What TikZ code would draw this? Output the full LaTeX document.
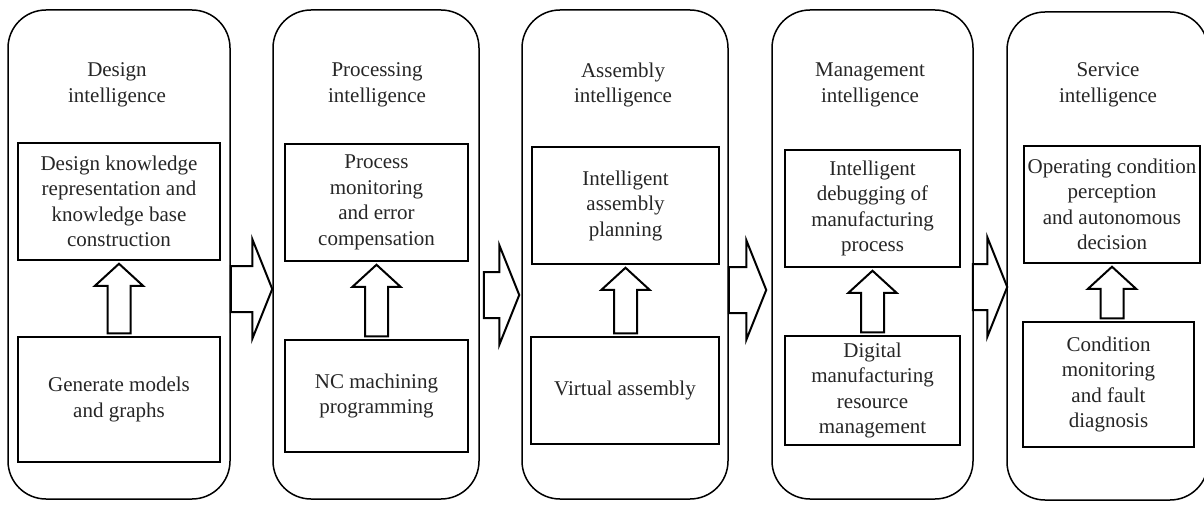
\documentclass[tikz,border=0pt]{standalone}
\usepackage{fontspec}
\setmainfont{Liberation Serif}
\usetikzlibrary{calc}
\tikzset{
  panel/.style={draw=black, line width=1.5pt, rounded corners=38pt, inner sep=0pt},
  box/.style={draw=black, line width=1.5pt, inner sep=0pt, align=center, text=black!85,
    font=\fontsize{21}{25.5}\selectfont},
  title/.style={align=center, text=black!85, inner sep=0pt, font=\fontsize{21}{25.5}\selectfont},
  blockarrow/.style={draw=black, line width=2pt, fill=white, line join=miter}
}
\newcommand{\smallup}[2]{%
  \draw[blockarrow] let \p1=(#2.south), \p2=(#1.north) in
    (\x1,\y1-3pt) -- (\x1+24pt,\y1-25pt) -- (\x1+11.5pt,\y1-25pt) -- (\x1+11.5pt,\y2+3pt)
    -- (\x1-11.5pt,\y2+3pt) -- (\x1-11.5pt,\y1-25pt) -- (\x1-24pt,\y1-25pt) -- cycle;}
\newcommand{\bigright}[5]{%
  \draw[blockarrow] let \p1=(#1.east), \p2=(#2.west) in
    ({\x1+(#4pt)},{#3pt+23pt}) -- ({\x2+(#5pt)-20pt},{#3pt+23pt}) -- ({\x2+(#5pt)-20pt},{#3pt+50pt})
    -- ({\x2+(#5pt)},{#3pt}) -- ({\x2+(#5pt)-20pt},{#3pt-50pt}) -- ({\x2+(#5pt)-20pt},{#3pt-23pt})
    -- ({\x1+(#4pt)},{#3pt-23pt}) -- cycle;}
\begin{document}
\begin{tikzpicture}[x=1pt,y=1pt]
\useasboundingbox (0,0) rectangle (1204,504);
\clip (0,0) rectangle (1204,504);
\fill[white] (0,0) rectangle (1204,504);
% panels
\node[panel, minimum width=222pt, minimum height=489pt] (p1) at (119,249.5) {};
\node[panel, minimum width=206pt, minimum height=489pt] (p2) at (376,249.5) {};
\node[panel, minimum width=206pt, minimum height=489pt] (p3) at (625,249.5) {};
\node[panel, minimum width=201pt, minimum height=489pt] (p4) at (872.5,249.5) {};
\node[panel, minimum width=201pt, minimum height=488pt] (p5) at (1107.5,248) {};
% titles
\node[title] (h1) at (117,419) {Design\\intelligence};
\node[title] (h2) at (377,419) {Processing\\intelligence};
\node[title] (h3) at (623,419) {Assembly\\intelligence};
\node[title] (h4) at (870,419) {Management\\intelligence};
\node[title] (h5) at (1108,419) {Service\\intelligence};
% inner boxes
\node[box, minimum width=202pt, minimum height=117pt] (t1) at (119,302.5) {Design knowledge\\representation and\\knowledge base\\construction};
\node[box, minimum width=202pt, minimum height=125pt] (b1) at (119,104.5) {Generate models\\and graphs};
\node[box, minimum width=183pt, minimum height=117pt] (t2) at (376.5,301.5) {Process\\monitoring\\and error\\compensation};
\node[box, minimum width=183pt, minimum height=112pt] (b2) at (376.5,108) {NC machining\\programming};
\node[box, minimum width=187pt, minimum height=117pt] (t3) at (625.5,298.5) {Intelligent\\assembly\\planning};
\node[box, minimum width=188pt, minimum height=107pt] (b3) at (625,113.5) {Virtual assembly};
\node[box, minimum width=175pt, minimum height=117pt] (t4) at (872.5,295.5) {Intelligent\\debugging of\\manufacturing\\process};
\node[box, minimum width=175pt, minimum height=109pt] (b4) at (872.5,113.5) {Digital\\manufacturing\\resource\\management};
\node[box, minimum width=176pt, minimum height=117pt] (t5) at (1112,299.5) {Operating condition\\perception\\and autonomous\\decision};
\node[box, minimum width=171pt, minimum height=125pt] (b5) at (1108.5,119.5) {Condition\\monitoring\\and fault\\diagnosis};
% small arrows
\smallup{b1}{t1}
\smallup{b2}{t2}
\smallup{b3}{t3}
\smallup{b4}{t4}
\smallup{b5}{t5}
% big arrows
\bigright{p1}{p2}{215}{0}{0}
\bigright{p2}{p3}{209}{4}{-2}
\bigright{p3}{p4}{214}{0}{-5}
\bigright{p4}{p5}{217}{-1}{1}
\end{tikzpicture}
\end{document}
